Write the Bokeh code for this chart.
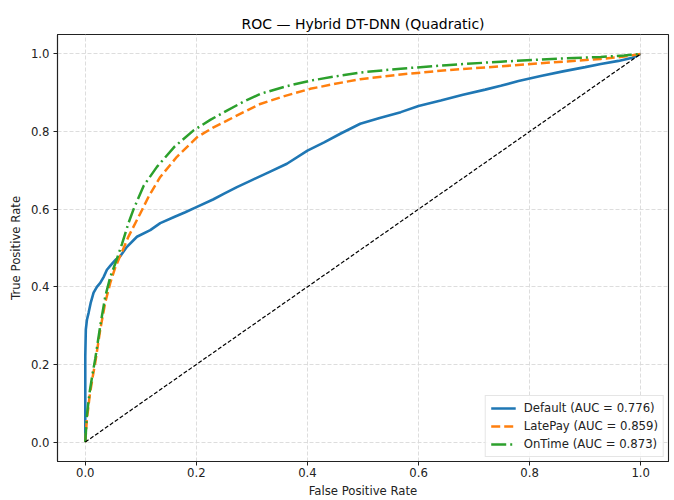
from bokeh.plotting import figure
from bokeh.models import Range1d, FixedTicker, PrintfTickFormatter, Legend, LegendItem
from bokeh.embed import file_html
from bokeh.resources import INLINE

title_text = "ROC \u2014 Hybrid DT-DNN (Quadratic)"
x_label = "False Positive Rate"
y_label = "True Positive Rate"
tick_values = [0.0, 0.2, 0.4, 0.6, 0.8, 1.0]

default_fpr = [0, 0.0, 0.001, 0.003, 0.006, 0.010, 0.015, 0.021, 0.027, 0.033, 0.039, 0.046, 0.054,
               0.063, 0.075, 0.093, 0.117, 0.135, 0.16, 0.18, 0.201, 0.23, 0.25, 0.273, 0.30, 0.33,
               0.363, 0.40, 0.43, 0.46, 0.495, 0.53, 0.568, 0.60, 0.64, 0.68, 0.72, 0.748, 0.78,
               0.82, 0.86, 0.90, 0.928, 0.96, 0.985, 1.0]
default_tpr = [0, 0.22, 0.29, 0.315, 0.333, 0.36, 0.385, 0.40, 0.41, 0.425, 0.444, 0.456, 0.469,
               0.479, 0.503, 0.529, 0.546, 0.564, 0.58, 0.592, 0.606, 0.625, 0.64, 0.657, 0.675, 0.695,
               0.717, 0.751, 0.772, 0.795, 0.82, 0.835, 0.85, 0.866, 0.88, 0.895, 0.908, 0.918, 0.93,
               0.943, 0.955, 0.966, 0.974, 0.982, 0.99, 1.0]

latepay_fpr = [0, 0.003, 0.008, 0.013, 0.018, 0.027, 0.036, 0.045, 0.054, 0.066, 0.078, 0.099,
               0.115, 0.135, 0.165, 0.201, 0.23, 0.255, 0.285, 0.315, 0.36, 0.405, 0.45, 0.495,
               0.568, 0.65, 0.748, 0.84, 0.928, 0.97, 1.0]
latepay_tpr = [0, 0.06, 0.12, 0.165, 0.205, 0.29, 0.36, 0.41, 0.45, 0.49, 0.53, 0.589,
               0.635, 0.683, 0.735, 0.785, 0.81, 0.828, 0.85, 0.871, 0.892, 0.91, 0.923, 0.935,
               0.947, 0.958, 0.968, 0.978, 0.987, 0.993, 1.0]

ontime_fpr = [0, 0.003, 0.008, 0.013, 0.018, 0.027, 0.036, 0.045, 0.054, 0.066, 0.078, 0.087,
              0.105, 0.129, 0.16, 0.195, 0.225, 0.255, 0.285, 0.315, 0.36, 0.405, 0.45, 0.495,
              0.568, 0.65, 0.748, 0.84, 0.928, 0.97, 1.0]
ontime_tpr = [0, 0.07, 0.13, 0.175, 0.215, 0.3, 0.375, 0.425, 0.46, 0.51, 0.565, 0.6,
              0.66, 0.709, 0.76, 0.803, 0.83, 0.854, 0.877, 0.897, 0.916, 0.931, 0.942, 0.952,
              0.962, 0.971, 0.98, 0.987, 0.992, 0.996, 1.0]

series_names = ["Default (AUC = 0.776)", "LatePay (AUC = 0.859)", "OnTime (AUC = 0.873)"]
diag = [0.0, 1.0]

FONT = "DejaVu Sans"
LABEL_SIZE = "11.7px"

p = figure(width=674, height=500, output_backend="svg", toolbar_location=None,
           x_range=Range1d(-0.05, 1.05), y_range=Range1d(-0.05, 1.05),
           min_border_left=57, min_border_top=34, min_border_right=6, min_border_bottom=36)

p.title.text = title_text
p.title.align = "center"
p.title.text_font = FONT
p.title.text_font_size = "14px"
p.title.text_font_style = "normal"
p.title.text_color = "black"
p.title.standoff = 5

p.outline_line_color = "#222222"
p.outline_line_width = 1.1
p.outline_line_alpha = 1

for ax, lab in ((p.xaxis, x_label), (p.yaxis, y_label)):
    ax.axis_label = lab
    ax.ticker = FixedTicker(ticks=tick_values)
    ax.formatter = PrintfTickFormatter(format="%.1f")
    ax.axis_label_text_font = FONT
    ax.axis_label_text_font_size = LABEL_SIZE
    ax.axis_label_text_font_style = "normal"
    ax.axis_label_text_color = "#222222"
    ax.major_label_text_font = FONT
    ax.major_label_text_font_size = LABEL_SIZE
    ax.major_label_text_color = "#222222"
    ax.minor_tick_line_color = None
    ax.major_tick_out = 4
    ax.major_tick_in = 0
    ax.major_tick_line_color = "#222222"
    ax.axis_line_color = "#222222"
    ax.axis_line_width = 1.1

p.xaxis.major_label_standoff = 2
p.xaxis.axis_label_standoff = 4
p.yaxis.major_label_standoff = 4
p.yaxis.axis_label_standoff = 5

p.grid.grid_line_color = "#d9d9d9"
p.grid.grid_line_dash = "4 2"
p.grid.grid_line_width = 0.9
p.xgrid.ticker = FixedTicker(ticks=tick_values)
p.ygrid.ticker = FixedTicker(ticks=tick_values)

r1 = p.line(default_fpr, default_tpr, line_color="#1f77b4", line_width=2.6)
r2 = p.line(latepay_fpr, latepay_tpr, line_color="#ff7f0e", line_width=2.5, line_dash="9 4")
r3 = p.line(ontime_fpr, ontime_tpr, line_color="#2ca02c", line_width=2.5, line_dash="15 4 2 4")
p.line(diag, diag, line_color="black", line_width=1.2, line_dash="4 2")

legend = Legend(items=[LegendItem(label=series_names[0], renderers=[r1]),
                       LegendItem(label=series_names[1], renderers=[r2]),
                       LegendItem(label=series_names[2], renderers=[r3])],
                location="bottom_right")
legend.margin = 4
legend.padding = 5
legend.spacing = 4
legend.label_text_font = FONT
legend.label_text_font_size = LABEL_SIZE
legend.label_text_color = "#222222"
legend.label_height = 14
legend.glyph_height = 14
legend.glyph_width = 25
legend.label_standoff = 8
legend.border_line_color = "#cccccc"
legend.border_line_width = 1
legend.background_fill_alpha = 0.85
p.add_layout(legend)

open("out.html", "w").write(file_html(p, INLINE))
